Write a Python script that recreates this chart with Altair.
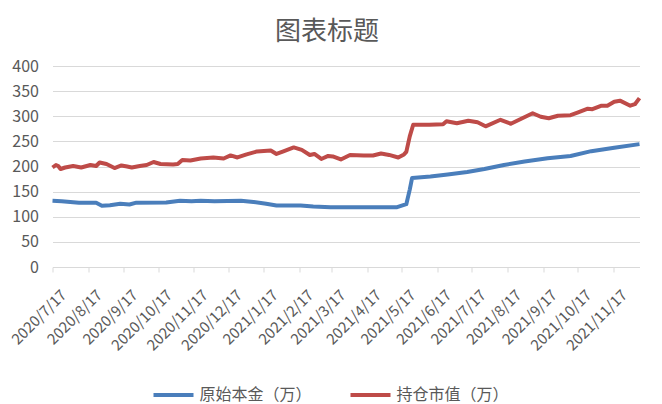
import altair as alt
import pandas as pd

# 原始本金（万）
principal_dates = [
    "2020/7/17", "2020/7/25", "2020/8/9", "2020/8/24", "2020/8/29", "2020/9/5",
    "2020/9/14", "2020/9/22", "2020/9/28", "2020/10/24", "2020/11/5", "2020/11/15",
    "2020/11/23", "2020/12/5", "2020/12/28", "2021/1/8", "2021/1/19", "2021/1/28",
    "2021/2/18", "2021/3/1", "2021/3/16", "2021/5/13", "2021/5/17", "2021/5/21",
    "2021/5/24", "2021/5/26", "2021/6/11", "2021/6/26", "2021/7/13", "2021/7/28",
    "2021/8/14", "2021/9/1", "2021/9/21", "2021/10/11", "2021/10/29", "2021/11/18",
    "2021/12/10",
]
principal_values = [
    132, 131, 128, 128, 122, 123,
    126, 124.5, 128, 128.5, 132, 131,
    132, 131, 132, 129.5, 126, 122.5,
    122.5, 120.5, 119, 119, 122, 125,
    154, 177, 180, 184, 189, 195,
    203, 210, 216.5, 221, 230.5, 237.5,
    244.5,
]

# 持仓市值（万）
market_dates = [
    "2020/7/17", "2020/7/20", "2020/7/22", "2020/7/24", "2020/7/28", "2020/8/4",
    "2020/8/11", "2020/8/19", "2020/8/24", "2020/8/27", "2020/9/2", "2020/9/9",
    "2020/9/15", "2020/9/20", "2020/9/24", "2020/10/1", "2020/10/7", "2020/10/13",
    "2020/10/19", "2020/10/30", "2020/11/3", "2020/11/7", "2020/11/14", "2020/11/23",
    "2020/12/4", "2020/12/13", "2020/12/19", "2020/12/25", "2021/1/2", "2021/1/11",
    "2021/1/23", "2021/1/28", "2021/2/3", "2021/2/12", "2021/2/19", "2021/2/26",
    "2021/3/2", "2021/3/8", "2021/3/14", "2021/3/18", "2021/3/25", "2021/4/2",
    "2021/4/14", "2021/4/22", "2021/4/29", "2021/5/6", "2021/5/14", "2021/5/19",
    "2021/5/21", "2021/5/24", "2021/5/27", "2021/6/10", "2021/6/22", "2021/6/25",
    "2021/7/4", "2021/7/14", "2021/7/22", "2021/7/29", "2021/8/11", "2021/8/20",
    "2021/9/8", "2021/9/15", "2021/9/22", "2021/9/30", "2021/10/11", "2021/10/17",
    "2021/10/26", "2021/10/30", "2021/11/7", "2021/11/12", "2021/11/18", "2021/11/23",
    "2021/12/2", "2021/12/6", "2021/12/10",
]
market_values = [
    198, 203, 201, 195, 198, 201,
    198, 203, 201, 208, 205, 197,
    202, 200, 198, 201, 203, 209,
    205, 204, 205, 213, 212, 216,
    218, 216, 222, 218, 224, 230,
    232, 225, 230, 238, 233, 223,
    225, 215, 221, 220, 214, 223,
    222, 222, 226, 223, 218, 224,
    229, 260, 283, 283, 284, 290,
    286, 291, 288, 280, 293, 285,
    306, 299, 296, 301, 302, 307,
    315, 314, 321, 321, 329, 331,
    321, 324, 336,
]

series_names = ["原始本金（万）", "持仓市值（万）"]
series_colors = ["#4a7ebb", "#be4b48"]

tick_months = [(2020, m) for m in range(7, 13)] + [(2021, m) for m in range(1, 12)]
y_ticks = [0, 50, 100, 150, 200, 250, 300, 350, 400]

df = pd.concat([
    pd.DataFrame({"date": principal_dates, "value": principal_values, "series": series_names[0]}),
    pd.DataFrame({"date": market_dates, "value": market_values, "series": series_names[1]}),
])

FONT = "Noto Sans CJK SC"
GREY = "#595959"

chart = alt.Chart(df).mark_line(strokeWidth=4, strokeJoin="round").encode(
    x=alt.X(
        "date:T",
        title=None,
        scale=alt.Scale(domain=[alt.DateTime(year=2020, month=7, date=17),
                                alt.DateTime(year=2021, month=12, date=10)]),
        axis=alt.Axis(
            values=[alt.DateTime(year=y, month=m, date=17) for y, m in tick_months],
            format="%Y/%-m/%-d",
            labelAngle=-45,
            labelAlign="right",
            labelBaseline="top",
            labelFont=FONT,
            labelFontSize=15,
            labelColor=GREY,
            labelPadding=15,
            labelOffset=6,
            labelOverlap=False,
            labelFlush=False,
            grid=False,
            domainColor="#d9d9d9",
            domainWidth=1,
            tickColor="#d9d9d9",
            tickSize=5,
        ),
    ),
    y=alt.Y(
        "value:Q",
        title=None,
        scale=alt.Scale(domain=[0, 400], nice=False),
        axis=alt.Axis(
            values=y_ticks,
            labelFont=FONT,
            labelFontSize=16,
            labelColor=GREY,
            labelPadding=14,
            domain=False,
            ticks=False,
            gridColor="#d9d9d9",
            gridWidth=1,
        ),
    ),
    color=alt.Color(
        "series:N",
        scale=alt.Scale(domain=series_names, range=series_colors),
        sort=series_names,
        legend=alt.Legend(
            title=None,
            orient="none",
            direction="horizontal",
            legendX=99,
            legendY=307,
            symbolType="stroke",
            symbolSize=1600,
            symbolStrokeWidth=4,
            labelFont=FONT,
            labelFontSize=16,
            labelColor=GREY,
            labelOffset=4,
            columnPadding=30,
            padding=0,
        ),
    ),
).properties(
    width=587,
    height=201,
    title=alt.TitleParams(
        "图表标题",
        font=FONT,
        fontSize=26,
        fontWeight="normal",
        color=GREY,
        anchor="middle",
        dx=-19,
        offset=13,
    ),
    autosize=alt.AutoSizeParams(type="none"),
    padding={"left": 44.5, "top": 58, "right": 14, "bottom": 137},
).configure_view(stroke=None)

chart.save("out.html", embed_options={"renderer": "svg", "actions": False})
